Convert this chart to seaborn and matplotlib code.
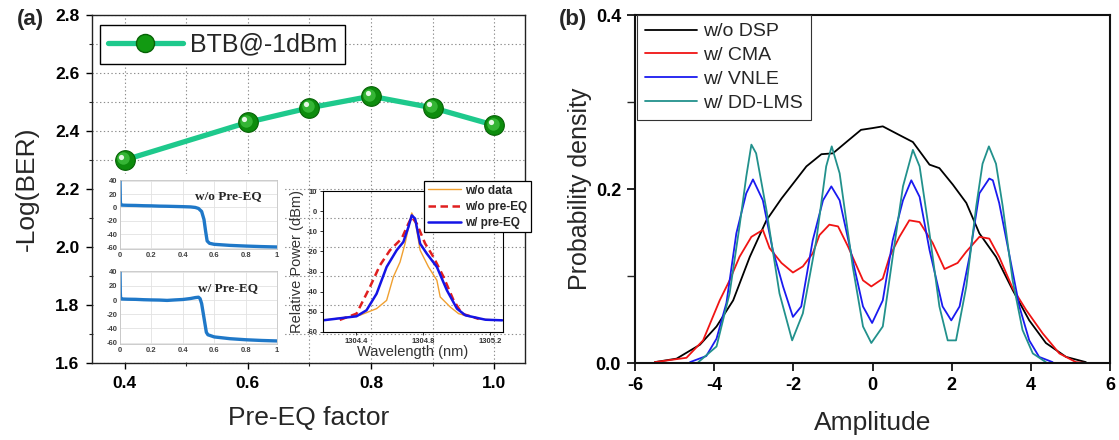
import matplotlib
matplotlib.use("Agg")
import matplotlib.pyplot as plt
import matplotlib.transforms as mtransforms
from matplotlib.lines import Line2D
from matplotlib.ticker import MultipleLocator
import seaborn as sns

# ---------------- data ----------------
# (a) receiver sensitivity versus pre-equalization factor
pre_eq_factor = [0.4, 0.6, 0.7, 0.8, 0.9, 1.0]
neg_log_ber = [2.30, 2.43, 2.48, 2.52, 2.48, 2.42]
pre_eq_ticks = [0.4, 0.6, 0.8, 1.0]
pre_eq_ticklabels = ["0.4", "0.6", "0.8", "1.0"]
ber_ticks = [1.6, 1.8, 2.0, 2.2, 2.4, 2.6, 2.8]
ber_ticklabels = ["1.6", "1.8", "2.0", "2.2", "2.4", "2.6", "2.8"]

# (a) inset: normalized frequency responses (dB)
resp_freq_wo = [0.0, 0.002, 0.004, 0.01, 0.05, 0.1, 0.15, 0.2, 0.25, 0.3, 0.35, 0.4,
                0.45, 0.48, 0.5, 0.52, 0.535, 0.545, 0.555, 0.57, 0.6, 0.7, 0.8, 0.9, 1.0]
resp_db_wo = [40, 10, 4, 3.5, 3.2, 3.0, 2.6, 2.4, 2.0, 1.8, 1.5, 1.2,
              0.8, 0.0, -1.5, -6, -18, -35, -50, -53.5, -55, -56.6, -57.6, -58.4, -59]
resp_freq_w = [0.0, 0.002, 0.004, 0.01, 0.05, 0.1, 0.15, 0.2, 0.25, 0.3, 0.35, 0.4, 0.45,
               0.48, 0.5, 0.51, 0.52, 0.53, 0.54, 0.55, 0.56, 0.6, 0.7, 0.8, 0.9, 1.0]
resp_db_w = [40, 10, 2, 1.5, 1.2, 1.0, 0.5, 0.2, 0.0, -0.5, 0.2, 0.8, 2.2,
             3.5, 4.0, 2.0, -5, -18.5, -32, -45.5, -49, -52, -54.5, -56, -57, -57.7]
resp_xticks = [0, 0.2, 0.4, 0.6, 0.8, 1.0]
resp_xticklabels = ["0", "0.2", "0.4", "0.6", "0.8", "1"]
resp_yticks = [-60, -40, -20, 0, 20, 40]
resp_yticklabels = ["-60", "-40", "-20", "0", "20", "40"]

# (a) inset: optical spectra
wl_no_data = [1304.20, 1304.42, 1304.52, 1304.58, 1304.62, 1304.66, 1304.69, 1304.72, 1304.73,
              1304.75, 1304.78, 1304.83, 1304.88, 1304.90, 1304.96, 1305.01, 1305.13, 1305.27]
pw_no_data = [-54.2, -51.7, -48.4, -44.3, -32.7, -25.3, -16.1, -4.5, -0.9,
              -4.5, -19.4, -27.7, -34.3, -42.6, -47.6, -50.9, -53.5, -54.2]
wl_wo_pre = [1304.30, 1304.40, 1304.48, 1304.54, 1304.60, 1304.67, 1304.71, 1304.73,
             1304.76, 1304.81, 1304.86, 1304.92, 1304.98, 1305.03, 1305.13]
pw_wo_pre = [-54.0, -50.9, -37.7, -26.9, -19.4, -13.6, -6.2, -2.9,
             -6.2, -16.1, -22.8, -32.7, -44.3, -50.9, -53.5]
wl_w_pre = [1304.20, 1304.40, 1304.46, 1304.52, 1304.58, 1304.64, 1304.68, 1304.71, 1304.73,
            1304.75, 1304.78, 1304.82, 1304.88, 1304.94, 1305.00, 1305.05, 1305.17, 1305.27]
pw_w_pre = [-54.2, -52.2, -49.2, -41.0, -27.7, -19.4, -15.3, -7.9, -2.1,
            -3.7, -16.1, -21.1, -27.7, -39.3, -48.4, -51.7, -53.9, -54.2]
spec_xticks = [1304.4, 1304.8, 1305.2]
spec_xticklabels = ["1304.4", "1304.8", "1305.2"]
spec_yticks = [-60, -50, -40, -30, -20, -10, 0, 10]
spec_yticklabels = ["-60", "-50", "-40", "-30", "-20", "-10", "0", "10"]

# (b) amplitude distributions after each DSP stage
amp_wo_dsp = [-5.5, -4.95, -4.36, -3.94, -3.52, -3.10, -2.68, -2.30, -2.01, -1.67, -1.29, -1.00,
              -0.66, -0.29, 0.0, 0.26, 0.68, 1.02, 1.44, 1.69, 2.03, 2.37, 2.70, 3.12, 3.54,
              3.96, 4.38, 4.89, 5.39]
pdf_wo_dsp = [0.001, 0.005, 0.021, 0.042, 0.072, 0.122, 0.164, 0.189, 0.206, 0.226, 0.240, 0.241,
              0.254, 0.268, 0.270, 0.272, 0.262, 0.254, 0.228, 0.224, 0.205, 0.184, 0.149, 0.122,
              0.084, 0.049, 0.023, 0.007, 0.001]
amp_cma = [-5.5, -4.70, -4.28, -3.86, -3.61, -3.36, -3.06, -2.77, -2.60, -2.30, -2.01, -1.76,
           -1.51, -1.34, -1.09, -0.87, -0.62, -0.24, -0.03, 0.26, 0.43, 0.68, 0.93, 1.19, 1.52,
           1.82, 2.15, 2.37, 2.70, 2.95, 3.20, 3.54, 3.88, 4.30, 4.72, 5.14, 5.4]
pdf_cma = [0.001, 0.006, 0.026, 0.072, 0.095, 0.122, 0.145, 0.153, 0.132, 0.115, 0.104, 0.111,
           0.126, 0.147, 0.159, 0.157, 0.134, 0.095, 0.088, 0.097, 0.122, 0.145, 0.164, 0.162,
           0.138, 0.108, 0.115, 0.128, 0.145, 0.143, 0.122, 0.086, 0.061, 0.034, 0.011, 0.001, 0.0]
amp_vnle = [-4.61, -4.20, -3.94, -3.69, -3.44, -3.19, -3.02, -2.77, -2.52, -2.26, -2.01, -1.80,
            -1.51, -1.25, -1.04, -0.83, -0.50, -0.24, -0.01, 0.26, 0.51, 0.77, 0.98, 1.19, 1.44,
            1.77, 1.99, 2.20, 2.45, 2.70, 2.95, 3.04, 3.20, 3.45, 3.71, 3.96, 4.21, 4.55]
pdf_vnle = [0.001, 0.008, 0.028, 0.069, 0.149, 0.195, 0.211, 0.187, 0.130, 0.088, 0.053, 0.065,
            0.141, 0.187, 0.203, 0.187, 0.118, 0.065, 0.046, 0.072, 0.141, 0.187, 0.210, 0.191,
            0.130, 0.065, 0.049, 0.065, 0.122, 0.195, 0.212, 0.210, 0.184, 0.126, 0.065, 0.026,
            0.007, 0.001]
amp_ddlms = [-4.40, -3.94, -3.61, -3.36, -3.19, -3.06, -2.94, -2.68, -2.35, -2.03, -1.76, -1.42,
             -1.17, -1.03, -0.83, -0.50, -0.24, -0.03, 0.26, 0.51, 0.77, 1.02, 1.19, 1.44, 1.69,
             1.90, 2.11, 2.37, 2.62, 2.78, 2.94, 3.12, 3.29, 3.54, 3.79, 4.05, 4.38]
pdf_ddlms = [0.001, 0.019, 0.080, 0.157, 0.214, 0.251, 0.241, 0.176, 0.080, 0.026, 0.057, 0.141,
             0.226, 0.249, 0.218, 0.111, 0.042, 0.023, 0.042, 0.122, 0.203, 0.245, 0.226, 0.149,
             0.065, 0.026, 0.026, 0.088, 0.180, 0.229, 0.249, 0.229, 0.180, 0.095, 0.038, 0.011,
             0.001]
amp_ticks = [-6, -4, -2, 0, 2, 4, 6]
amp_ticklabels = ["-6", "-4", "-2", "0", "2", "4", "6"]
pdf_ticks = [0.0, 0.2, 0.4]
pdf_ticklabels = ["0.0", "0.2", "0.4"]

# ---------------- style ----------------
sns.set_theme(style="ticks")
plt.rcParams["font.family"] = ["Liberation Sans", "DejaVu Sans"]
plt.rcParams["axes.linewidth"] = 1.0

W, H = 1119, 440
fig = plt.figure(figsize=(W / 100, H / 100), dpi=100)
fig.patch.set_facecolor("white")


def px_rect(x0, y0, x1, y1):
    """Axes rectangle from pixel edges (origin top-left)."""
    return [x0 / W, 1 - y1 / H, (x1 - x0) / W, (y1 - y0) / H]


# ---------------- panel (a) ----------------
ax_a = fig.add_axes(px_rect(92, 15, 525, 363))
ax_a.set_facecolor("white")
line_green = "#1ec98c"
sns.lineplot(x=pre_eq_factor, y=neg_log_ber, color=line_green, lw=3.8,
             ax=ax_a, zorder=3, estimator=None)
sns.scatterplot(x=pre_eq_factor, y=neg_log_ber, s=200, color="#0d8c0d",
                edgecolor="#066206", linewidth=0.8, ax=ax_a, zorder=4)
shade = mtransforms.offset_copy(ax_a.transData, fig=fig, x=-1.2, y=1.2, units="points")
sns.scatterplot(x=pre_eq_factor, y=neg_log_ber, s=80, color="#35b535", linewidth=0,
                ax=ax_a, zorder=5, transform=shade)
shine = mtransforms.offset_copy(ax_a.transData, fig=fig, x=-2.4, y=2.4, units="points")
sns.scatterplot(x=pre_eq_factor, y=neg_log_ber, s=14, color="#e6f7e6", linewidth=0,
                ax=ax_a, zorder=6, transform=shine)

ax_a.set_xlim(0.347, 1.05)
ax_a.set_ylim(1.6, 2.8)
ax_a.set_xticks(pre_eq_ticks)
ax_a.set_xticklabels(pre_eq_ticklabels, fontweight="bold")
ax_a.set_yticks(ber_ticks)
ax_a.set_yticklabels(ber_ticklabels, fontweight="bold")
ax_a.xaxis.set_minor_locator(MultipleLocator(0.1))
ax_a.yaxis.set_minor_locator(MultipleLocator(0.1))
ax_a.tick_params(which="major", direction="out", length=4, width=1, labelsize=12.5,
                 pad=5, colors="black")
ax_a.tick_params(which="minor", direction="out", length=2, width=0.8)
ax_a.grid(True, which="both", linestyle=(0, (1.2, 2.2)), color="#8c8c8c", linewidth=0.8)
ax_a.set_axisbelow(True)
for sp in ax_a.spines.values():
    sp.set_visible(True)
    sp.set_color("#222222")
    sp.set_linewidth(1.0)
ax_a.set_xlabel("Pre-EQ factor", fontsize=19, labelpad=11)
ax_a.set_ylabel("-Log(BER)", fontsize=19, labelpad=12)

leg_handle = Line2D([], [], color=line_green, lw=3.8, marker="o", markersize=13,
                    markerfacecolor="#129a12", markeredgecolor="#066206")
leg_a = ax_a.legend(handles=[leg_handle], labels=["BTB@-1dBm"], loc="upper left",
                    bbox_to_anchor=(100 / W, 1 - 25 / H), bbox_transform=fig.transFigure,
                    borderaxespad=0, fancybox=False, framealpha=1, edgecolor="black",
                    fontsize=18, handlelength=3.0, handletextpad=0.3, borderpad=0.3)
leg_a.get_frame().set_linewidth(1.0)

fig.text(30 / W, 1 - 20 / H, "(a)", ha="center", va="center", fontsize=16, fontweight="bold")

# white backdrop behind the two frequency-response insets
ax_bg = fig.add_axes(px_rect(96, 174, 283, 360))
ax_bg.set_facecolor("white")
ax_bg.set_xticks([])
ax_bg.set_yticks([])
for sp in ax_bg.spines.values():
    sp.set_visible(False)

resp_blue = "#1f78c8"
ins_sets = [
    (px_rect(120, 180, 277, 249), resp_freq_wo, resp_db_wo, "w/o Pre-EQ"),
    (px_rect(120, 271, 277, 344), resp_freq_w, resp_db_w, "w/ Pre-EQ"),
]
for rect, fx, fy, title in ins_sets:
    ins = fig.add_axes(rect)
    ins.set_facecolor("white")
    sns.lineplot(x=fx, y=fy, color=resp_blue, lw=2.4, ax=ins, estimator=None)
    ins.set_xlim(0, 1)
    ins.set_ylim(-62, 41)
    ins.set_xticks(resp_xticks)
    ins.set_xticklabels(resp_xticklabels, fontweight="bold")
    ins.set_yticks(resp_yticks)
    ins.set_yticklabels(resp_yticklabels, fontweight="bold")
    ins.tick_params(labelsize=5.5, length=0, pad=2, colors="#404040")
    ins.grid(True, color="#e2e2e2", linewidth=0.6, linestyle="-")
    ins.set_axisbelow(True)
    for sp in ins.spines.values():
        sp.set_visible(True)
        sp.set_color("#c4c4c4")
        sp.set_linewidth(0.6)
    ins.text(0.69, 0.77, title, transform=ins.transAxes, ha="center", va="center",
             family=["Liberation Serif", "DejaVu Serif"], fontweight="bold", fontsize=9.5)

# optical spectrum inset (transparent so the main grid shows through)
ins_s = fig.add_axes(px_rect(323, 191, 503, 332))
ins_s.set_facecolor("none")
sns.lineplot(x=wl_no_data, y=pw_no_data, color="#f0a030", lw=1.0, ax=ins_s,
             estimator=None, label="w/o data")
sns.lineplot(x=wl_wo_pre, y=pw_wo_pre, color="#e01f1f", lw=1.8, ax=ins_s,
             estimator=None, label="w/o pre-EQ", linestyle=(0, (3.0, 1.8)))
sns.lineplot(x=wl_w_pre, y=pw_w_pre, color="#1414e6", lw=1.8, ax=ins_s,
             estimator=None, label="w/ pre-EQ")
ins_s.set_xlim(1304.2, 1305.275)
ins_s.set_ylim(-60, 10)
ins_s.set_xticks(spec_xticks)
ins_s.set_xticklabels(spec_xticklabels, fontweight="bold")
ins_s.set_yticks(spec_yticks)
ins_s.set_yticklabels(spec_yticklabels, fontweight="bold")
ins_s.tick_params(labelsize=5.5, length=2.5, width=0.7, pad=1.5, colors="#333333",
                  direction="out")
for sp in ins_s.spines.values():
    sp.set_visible(True)
    sp.set_color("black")
    sp.set_linewidth(0.8)
ins_s.set_xlabel("Wavelength (nm)", fontsize=10.5, labelpad=0.5, color="#333333")
ins_s.set_ylabel("Relative Power (dBm)", fontsize=10.5, labelpad=1.5, color="#333333")
leg_s = ins_s.legend(loc="upper left", bbox_to_anchor=(424 / W, 1 - 181 / H),
                     bbox_transform=fig.transFigure, borderaxespad=0, fancybox=False,
                     framealpha=1, edgecolor="black", prop={"size": 8.5, "weight": "bold"},
                     handlelength=2.8, handletextpad=0.4, labelspacing=0.35, borderpad=0.3)
leg_s.get_frame().set_linewidth(0.9)

# ---------------- panel (b) ----------------
ax_b = fig.add_axes(px_rect(635, 15, 1110, 363))
ax_b.set_facecolor("white")
series_b = [
    (amp_wo_dsp, pdf_wo_dsp, "black", "w/o DSP"),
    (amp_cma, pdf_cma, "#f01414", "w/ CMA"),
    (amp_vnle, pdf_vnle, "#1a1af0", "w/ VNLE"),
    (amp_ddlms, pdf_ddlms, "#22918c", "w/ DD-LMS"),
]
for ax_x, ax_y, col, lab in series_b:
    sns.lineplot(x=ax_x, y=ax_y, color=col, lw=1.3, ax=ax_b, estimator=None, label=lab)
ax_b.set_xlim(-6, 6)
ax_b.set_ylim(0, 0.4)
ax_b.set_xticks(amp_ticks)
ax_b.set_xticklabels(amp_ticklabels, fontweight="bold")
ax_b.set_yticks(pdf_ticks)
ax_b.set_yticklabels(pdf_ticklabels, fontweight="bold")
ax_b.yaxis.set_minor_locator(MultipleLocator(0.1))
ax_b.tick_params(which="major", direction="out", length=6, width=1.2, labelsize=13, pad=4,
                 colors="black")
ax_b.tick_params(which="minor", direction="out", length=6, width=1.0)
for sp in ax_b.spines.values():
    sp.set_visible(True)
    sp.set_color("#111111")
    sp.set_linewidth(1.5)
ax_b.grid(False)
ax_b.set_xlabel("Amplitude", fontsize=19, labelpad=12)
ax_b.set_ylabel("Probability density", fontsize=18, labelpad=3)
leg_b = ax_b.legend(loc="upper left", bbox_to_anchor=(637 / W, 1 - 15 / H),
                    bbox_transform=fig.transFigure, borderaxespad=0, fancybox=False,
                    framealpha=1, edgecolor="#333333", fontsize=14, handlelength=2.7,
                    handletextpad=0.3, labelspacing=0.32, borderpad=0.4)
leg_b.get_frame().set_linewidth(0.8)

fig.text(573 / W, 1 - 20 / H, "(b)", ha="center", va="center", fontsize=16, fontweight="bold")

fig.savefig("out.png", dpi=100, facecolor="white")
